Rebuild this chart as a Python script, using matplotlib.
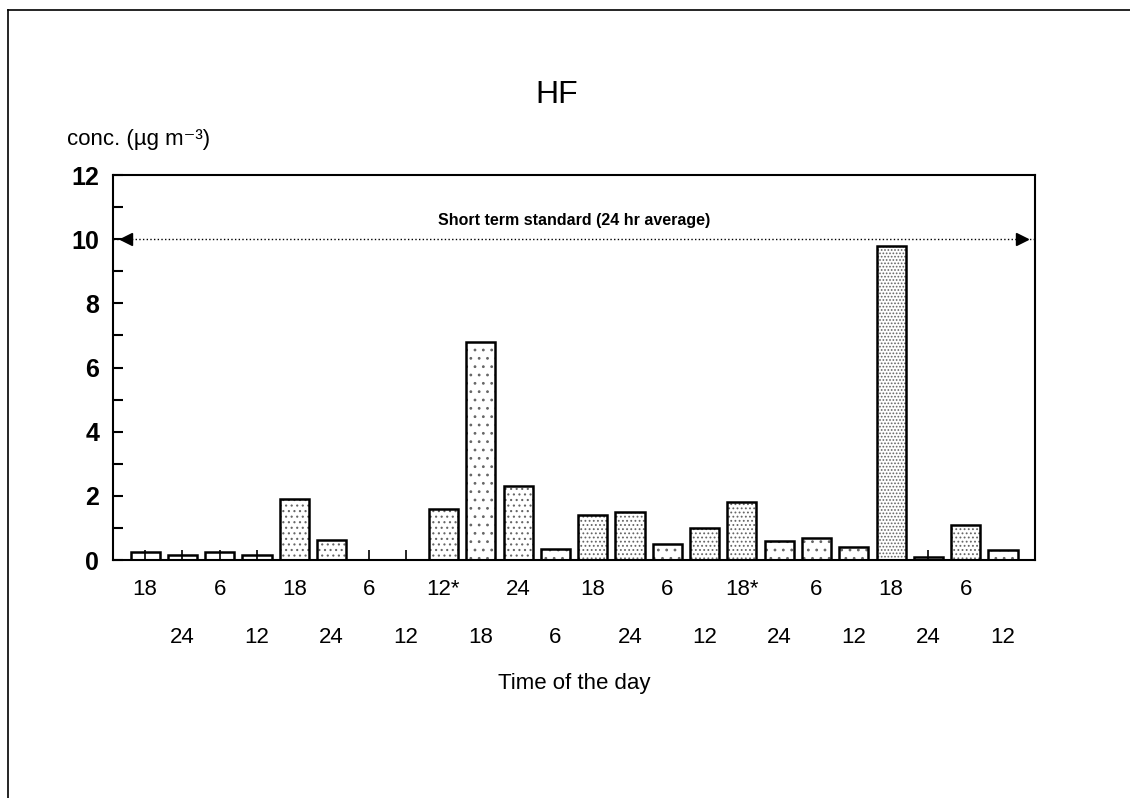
import matplotlib
matplotlib.use('Agg')
import numpy as np
import matplotlib.pyplot as plt
from matplotlib.lines import Line2D


# HF concentration per sampling interval (µg m-3)
TIME_LABELS = ['18', '24', '6', '12', '18', '24', '6', '12', '12*', '18', '24', '6',
               '18', '24', '6', '12', '18*', '24', '6', '12', '18', '24', '6', '12']
CONC = [0.25, 0.15, 0.25, 0.15, 1.9, 0.62, 0.0, 0.0, 1.6, 6.8, 2.3, 0.35,
        1.4, 1.5, 0.5, 1.0, 1.8, 0.6, 0.7, 0.4, 9.8, 0.1, 1.1, 0.3]
STANDARD = 10.0
STANDARD_LABEL = 'Short term standard (24 hr average)'

# stipple density of each bar (0 = open bar)
SHADE = [0, 0, 0, 0, 2, 2, 0, 0, 2, 1, 2, 1,
         3, 3, 1, 3, 3, 1, 1, 1, 4, 0, 3, 1]

plt.rcParams['font.family'] = ['Liberation Sans', 'DejaVu Sans']
plt.rcParams['hatch.linewidth'] = 0.8


def main():
    fig = plt.figure(figsize=(11.3, 7.98), dpi=100)
    ax = fig.add_axes([0.1, 0.2982, 0.816, 0.4825])

    x = np.arange(len(CONC))
    width = 0.78
    hatches = [None if s == 0 else '.' * (s + 1) for s in SHADE]

    # stipple first, outline on top
    for xi, h, hatch in zip(x, CONC, hatches):
        if hatch:
            ax.bar(xi, h, width=width, color='white', edgecolor='#666666',
                   hatch=hatch, linewidth=0, zorder=2)
    ax.bar(x, CONC, width=width, facecolor='none', edgecolor='black',
           linewidth=1.8, zorder=3)

    ax.set_xlim(-0.86, len(CONC) - 1 + 0.86)
    ax.set_ylim(0, 12)

    # dotted standard line with arrowheads at both ends
    x0, x1 = ax.get_xlim()
    ax.plot([x0, x1], [STANDARD, STANDARD], color='black', linestyle=':',
            linewidth=1.0, zorder=4)
    ax.plot([x0 + 0.35], [STANDARD], marker='<', color='black', markersize=9, zorder=5)
    ax.plot([x1 - 0.35], [STANDARD], marker='>', color='black', markersize=9, zorder=5)
    ax.text((x0 + x1) / 2, STANDARD + 0.35, STANDARD_LABEL, ha='center', va='bottom',
            fontsize=11.5, fontweight='bold')

    # two staggered rows of time labels
    ax.set_xticks(x[0::2])
    ax.set_xticklabels(TIME_LABELS[0::2])
    ax.set_xticks(x[1::2], minor=True)
    ax.set_xticklabels(TIME_LABELS[1::2], minor=True)
    ax.tick_params(axis='x', which='major', direction='in', length=7, width=1.2,
                   pad=14, labelsize=16)
    ax.tick_params(axis='x', which='minor', direction='in', length=7, width=1.2,
                   pad=48, labelsize=16)

    ax.set_yticks(np.arange(0, 13, 2))
    ax.set_yticks(np.arange(1, 12, 2), minor=True)
    ax.tick_params(axis='y', which='both', direction='in', length=7, width=1.5,
                   pad=10, labelsize=18)
    for lab in ax.get_yticklabels():
        lab.set_fontweight('bold')

    for sp in ax.spines.values():
        sp.set_linewidth(1.5)

    fig.text(557 / 1130, 1 - 95 / 798, 'HF', ha='center', va='center', fontsize=23)
    fig.text(67 / 1130, 1 - 140 / 798, 'conc. (µg m⁻³)', ha='left', va='center',
             fontsize=16)
    fig.text(574 / 1130, 1 - 683 / 798, 'Time of the day', ha='center', va='center',
             fontsize=16)

    # page frame along top and left edges
    fig.add_artist(Line2D([8 / 1130, 1], [1 - 10 / 798, 1 - 10 / 798],
                          transform=fig.transFigure, color='black', linewidth=1.2))
    fig.add_artist(Line2D([8 / 1130, 8 / 1130], [0, 1 - 10 / 798],
                          transform=fig.transFigure, color='black', linewidth=1.2))

    fig.savefig('out.png', dpi=100)
    plt.close(fig)


if __name__ == '__main__':
    main()
